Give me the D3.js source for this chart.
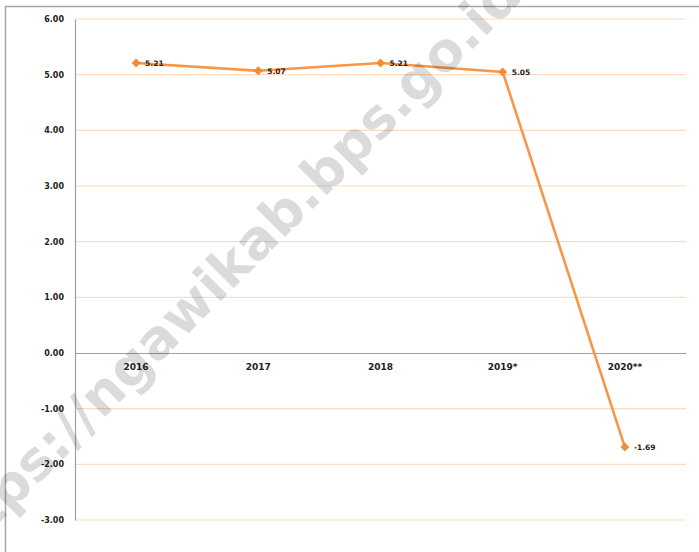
<!DOCTYPE html>
<html>
<head>
<meta charset="utf-8">
<script src="https://cdn.jsdelivr.net/npm/d3@7"></script>
<style>
  body { margin: 0; background: #fff; }
  svg { display: block; font-family: "DejaVu Sans", Verdana, sans-serif; }
</style>
</head>
<body>
<div id="chart"></div>
<script>
// data
let years = ["2016", "2017", "2018", "2019*", "2020**"];
let growth = [5.21, 5.07, 5.21, 5.05, -1.69];
let yTicks = [-3, -2, -1, 0, 1, 2, 3, 4, 5, 6];

let W = 699, H = 552;
let margin = { top: 19, right: 13, bottom: 32, left: 75 };
let width = W - margin.left - margin.right;
let height = H - margin.top - margin.bottom;

let svg = d3.select("#chart").append("svg")
    .attr("width", W)
    .attr("height", H);

// outer frame (left + top)
svg.append("path")
    .attr("d", "M5.5," + H + "V6.5H" + W)
    .attr("fill", "none")
    .attr("stroke", "#a6a6a6")
    .attr("stroke-width", 1.5);

let g = svg.append("g")
    .attr("transform", "translate(" + margin.left + "," + margin.top + ")");

let x = d3.scaleBand().domain(years).range([0, width]);
let y = d3.scaleLinear().domain([-3, 6]).range([height, 0]);

// gridlines
g.append("g").selectAll("line")
    .data(yTicks.filter(d => d !== 0))
    .enter().append("line")
    .attr("x1", 0).attr("x2", width)
    .attr("y1", d => y(d)).attr("y2", d => y(d))
    .attr("stroke", "#fcdcc2")
    .attr("stroke-width", 1.2);

// y axis
let yAxis = g.append("g")
    .call(d3.axisLeft(y).tickValues(yTicks).tickFormat(d => d.toFixed(2)).tickSize(0).tickPadding(11));
yAxis.select(".domain").attr("stroke", "#a0a0a0").attr("stroke-width", 1.2);
yAxis.selectAll("text")
    .attr("font-size", 8)
    .attr("font-weight", "bold")
    .attr("fill", "#222")
    .attr("font-family", "DejaVu Sans, sans-serif");

// x axis at zero
let xAxis = g.append("g")
    .attr("transform", "translate(0," + y(0) + ")")
    .call(d3.axisBottom(x).tickSize(0).tickPadding(11));
xAxis.select(".domain").attr("stroke", "#a0a0a0").attr("stroke-width", 1.2);
xAxis.selectAll("text")
    .attr("font-size", 9)
    .attr("font-weight", "bold")
    .attr("fill", "#222")
    .attr("font-family", "DejaVu Sans, sans-serif");

// watermark
svg.append("text")
    .attr("transform", "translate(524,-2) rotate(-45)")
    .attr("text-anchor", "end")
    .attr("font-size", 54)
    .attr("font-weight", "bold")
    .attr("fill", "rgba(0,0,0,0.14)")
    .text("https://ngawikab.bps.go.id");

// line
let line = d3.line()
    .x((d, i) => x(years[i]) + x.bandwidth() / 2)
    .y(d => y(d));

g.append("path")
    .datum(growth)
    .attr("d", line)
    .attr("fill", "none")
    .attr("stroke", "#f79646")
    .attr("stroke-width", 2.6);

g.selectAll(".pt")
    .data(growth)
    .enter().append("path")
    .attr("class", "pt")
    .attr("d", d3.symbol().type(d3.symbolSquare).size(40))
    .attr("transform", (d, i) => "translate(" + (x(years[i]) + x.bandwidth() / 2) + "," + y(d) + ") rotate(45)")
    .attr("fill", "#f28a36");

g.selectAll(".lbl")
    .data(growth)
    .enter().append("text")
    .attr("class", "lbl")
    .attr("x", (d, i) => x(years[i]) + x.bandwidth() / 2 + 9)
    .attr("y", d => y(d) + 3)
    .attr("font-size", 7.5)
    .attr("font-weight", "bold")
    .attr("fill", "#222")
    .text(d => d.toFixed(2));
</script>
</body>
</html>
